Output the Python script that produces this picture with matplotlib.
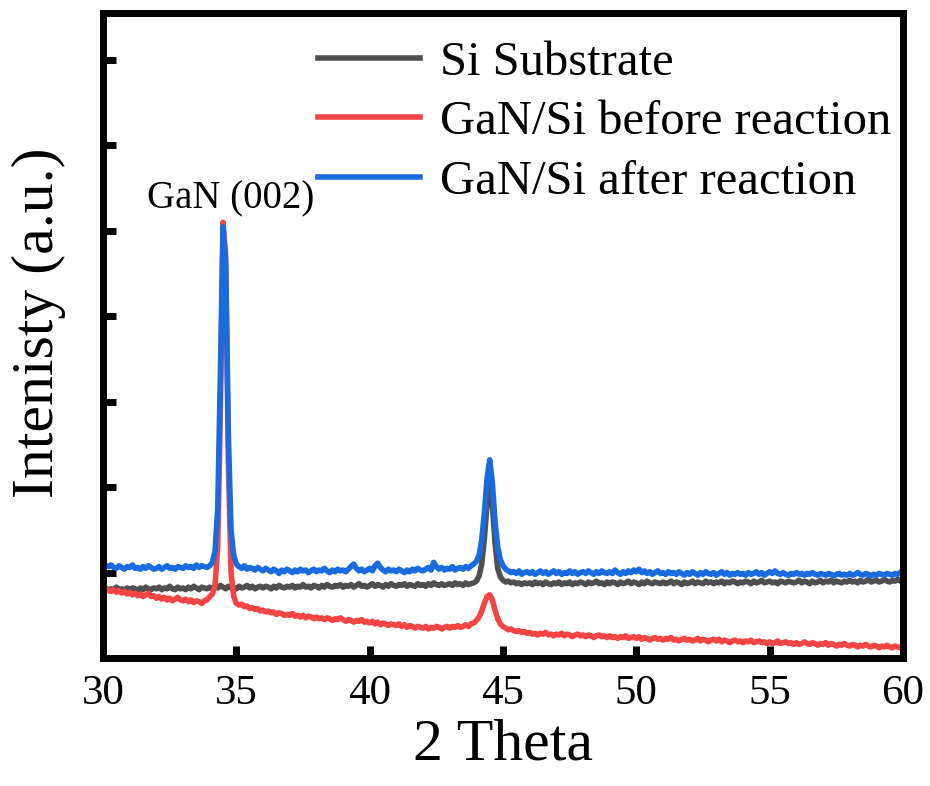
"""XRD patterns of the Si substrate and GaN/Si before and after reaction."""

import matplotlib

matplotlib.use("Agg")
import matplotlib.pyplot as plt
import numpy as np

# scan grid: 30.0 .. 60.0 deg, 0.1 deg step (one row below = one degree)
two_theta = np.round(30.0 + 0.1 * np.arange(301), 1)

si_substrate = [
    0.80, 0.82, 0.79, 0.81, 0.80, 0.83, 0.80, 0.81, 0.79, 0.82,  # 30
    0.80, 0.82, 0.81, 0.79, 0.82, 0.80, 0.83, 0.81, 0.80, 0.82,  # 31
    0.81, 0.83, 0.80, 0.82, 0.81, 0.84, 0.81, 0.80, 0.83, 0.81,  # 32
    0.82, 0.80, 0.83, 0.81, 0.84, 0.82, 0.80, 0.83, 0.82, 0.81,  # 33
    0.83, 0.81, 0.84, 0.82, 0.85, 0.83, 0.81, 0.84, 0.82, 0.83,  # 34
    0.81, 0.84, 0.82, 0.83, 0.85, 0.82, 0.84, 0.81, 0.83, 0.84,  # 35
    0.82, 0.84, 0.83, 0.81, 0.84, 0.82, 0.85, 0.83, 0.82, 0.84,  # 36
    0.83, 0.85, 0.82, 0.84, 0.83, 0.86, 0.83, 0.84, 0.82, 0.85,  # 37
    0.84, 0.82, 0.85, 0.83, 0.86, 0.84, 0.83, 0.85, 0.84, 0.86,  # 38
    0.83, 0.85, 0.84, 0.86, 0.83, 0.85, 0.87, 0.84, 0.85, 0.83,  # 39
    0.85, 0.87, 0.84, 0.86, 0.85, 0.83, 0.86, 0.84, 0.87, 0.85,  # 40
    0.84, 0.86, 0.85, 0.87, 0.84, 0.86, 0.85, 0.84, 0.87, 0.85,  # 41
    0.86, 0.84, 0.87, 0.85, 0.88, 0.86, 0.85, 0.87, 0.85, 0.86,  # 42
    0.87, 0.85, 0.88, 0.86, 0.87, 0.85, 0.88, 0.86, 0.87, 0.88,  # 43
    0.90, 0.96, 1.10, 1.40, 1.80, 2.05, 1.80, 1.35, 1.05, 0.95,  # 44
    0.91, 0.89, 0.90, 0.88, 0.89, 0.87, 0.88, 0.86, 0.88, 0.87,  # 45
    0.88, 0.86, 0.89, 0.87, 0.88, 0.86, 0.89, 0.87, 0.86, 0.88,  # 46
    0.87, 0.89, 0.86, 0.88, 0.87, 0.89, 0.86, 0.88, 0.87, 0.89,  # 47
    0.88, 0.86, 0.89, 0.87, 0.88, 0.90, 0.87, 0.88, 0.86, 0.89,  # 48
    0.87, 0.89, 0.88, 0.86, 0.89, 0.87, 0.88, 0.90, 0.87, 0.89,  # 49
    0.88, 0.86, 0.89, 0.87, 0.90, 0.88, 0.87, 0.89, 0.88, 0.87,  # 50
    0.89, 0.87, 0.88, 0.90, 0.87, 0.89, 0.88, 0.86, 0.89, 0.87,  # 51
    0.88, 0.90, 0.87, 0.89, 0.88, 0.87, 0.90, 0.88, 0.89, 0.87,  # 52
    0.89, 0.88, 0.90, 0.87, 0.89, 0.88, 0.90, 0.89, 0.87, 0.89,  # 53
    0.88, 0.90, 0.89, 0.87, 0.90, 0.88, 0.89, 0.91, 0.88, 0.89,  # 54
    0.90, 0.88, 0.89, 0.87, 0.90, 0.89, 0.88, 0.90, 0.89, 0.88,  # 55
    0.89, 0.91, 0.88, 0.90, 0.89, 0.87, 0.90, 0.88, 0.89, 0.91,  # 56
    0.88, 0.90, 0.89, 0.91, 0.88, 0.90, 0.89, 0.88, 0.90, 0.89,  # 57
    0.91, 0.89, 0.90, 0.88, 0.91, 0.89, 0.90, 0.92, 0.89, 0.90,  # 58
    0.91, 0.89, 0.90, 0.92, 0.90, 0.89, 0.91, 0.90, 0.92, 0.90,  # 59
    0.91,                                                        # 60
]

gan_before = [
    0.80, 0.82, 0.79, 0.78, 0.80, 0.77, 0.79, 0.76, 0.78, 0.75,  # 30
    0.77, 0.74, 0.76, 0.73, 0.75, 0.72, 0.74, 0.76, 0.72, 0.73,  # 31
    0.70, 0.72, 0.69, 0.71, 0.68, 0.70, 0.67, 0.69, 0.71, 0.68,  # 32
    0.67, 0.69, 0.66, 0.68, 0.65, 0.67, 0.66, 0.64, 0.67, 0.68,  # 33
    0.72, 0.75, 0.85, 1.30, 2.90, 5.10, 4.70, 2.30, 1.00, 0.72,  # 34
    0.64, 0.62, 0.63, 0.60, 0.61, 0.58, 0.59, 0.57, 0.58, 0.55,  # 35
    0.56, 0.54, 0.55, 0.53, 0.54, 0.51, 0.53, 0.52, 0.50, 0.51,  # 36
    0.50, 0.52, 0.49, 0.50, 0.48, 0.50, 0.47, 0.49, 0.48, 0.46,  # 37
    0.48, 0.46, 0.47, 0.45, 0.47, 0.46, 0.44, 0.46, 0.45, 0.47,  # 38
    0.45, 0.43, 0.45, 0.44, 0.42, 0.44, 0.43, 0.45, 0.42, 0.43,  # 39
    0.41, 0.43, 0.40, 0.42, 0.39, 0.41, 0.40, 0.38, 0.40, 0.39,  # 40
    0.38, 0.40, 0.37, 0.39, 0.36, 0.38, 0.37, 0.35, 0.37, 0.36,  # 41
    0.35, 0.37, 0.34, 0.36, 0.35, 0.37, 0.36, 0.34, 0.36, 0.37,  # 42
    0.35, 0.37, 0.36, 0.38, 0.36, 0.37, 0.39, 0.37, 0.40, 0.41,  # 43
    0.44, 0.48, 0.55, 0.64, 0.72, 0.74, 0.68, 0.56, 0.46, 0.40,  # 44
    0.37, 0.35, 0.33, 0.34, 0.32, 0.31, 0.32, 0.30, 0.31, 0.29,  # 45
    0.30, 0.28, 0.29, 0.27, 0.29, 0.28, 0.30, 0.27, 0.28, 0.26,  # 46
    0.28, 0.27, 0.29, 0.26, 0.28, 0.27, 0.25, 0.27, 0.28, 0.26,  # 47
    0.27, 0.25, 0.27, 0.26, 0.24, 0.26, 0.27, 0.25, 0.26, 0.24,  # 48
    0.26, 0.24, 0.25, 0.23, 0.25, 0.24, 0.26, 0.23, 0.24, 0.25,  # 49
    0.23, 0.25, 0.22, 0.24, 0.23, 0.21, 0.23, 0.24, 0.22, 0.23,  # 50
    0.21, 0.23, 0.22, 0.24, 0.21, 0.22, 0.20, 0.22, 0.23, 0.21,  # 51
    0.22, 0.20, 0.21, 0.23, 0.20, 0.22, 0.21, 0.19, 0.21, 0.22,  # 52
    0.20, 0.22, 0.19, 0.21, 0.20, 0.18, 0.20, 0.21, 0.19, 0.20,  # 53
    0.18, 0.20, 0.19, 0.21, 0.18, 0.19, 0.20, 0.18, 0.19, 0.17,  # 54
    0.19, 0.17, 0.18, 0.20, 0.17, 0.18, 0.19, 0.17, 0.18, 0.16,  # 55
    0.18, 0.16, 0.17, 0.19, 0.17, 0.16, 0.18, 0.17, 0.15, 0.17,  # 56
    0.16, 0.18, 0.15, 0.17, 0.16, 0.14, 0.16, 0.15, 0.17, 0.15,  # 57
    0.14, 0.16, 0.15, 0.13, 0.15, 0.14, 0.16, 0.14, 0.13, 0.15,  # 58
    0.14, 0.12, 0.14, 0.13, 0.15, 0.13, 0.12, 0.14, 0.13, 0.12,  # 59
    0.14,                                                        # 60
]

gan_after = [
    1.05, 1.08, 1.07, 1.09, 1.06, 1.05, 1.08, 1.06, 1.04, 1.07,  # 30
    1.06, 1.09, 1.05, 1.06, 1.04, 1.07, 1.05, 1.08, 1.06, 1.04,  # 31
    1.05, 1.07, 1.04, 1.06, 1.08, 1.05, 1.06, 1.04, 1.07, 1.06,  # 32
    1.05, 1.08, 1.06, 1.07, 1.05, 1.09, 1.06, 1.08, 1.07, 1.06,  # 33
    1.08, 1.12, 1.25, 1.75, 3.30, 5.05, 4.60, 2.60, 1.50, 1.20,  # 34
    1.10, 1.07, 1.05, 1.08, 1.04, 1.06, 1.05, 1.03, 1.06, 1.04,  # 35
    1.02, 1.05, 1.03, 1.01, 1.04, 1.02, 0.99, 1.03, 1.01, 1.04,  # 36
    1.02, 1.00, 1.03, 1.01, 1.04, 1.02, 1.03, 1.00, 1.02, 1.04,  # 37
    1.01, 1.03, 1.02, 1.05, 1.02, 1.00, 1.03, 1.01, 1.04, 1.02,  # 38
    1.03, 1.01, 1.04, 1.07, 1.10, 1.05, 1.02, 1.04, 1.01, 1.03,  # 39
    1.05, 1.02, 1.08, 1.11, 1.06, 1.03, 1.01, 1.04, 1.02, 1.03,  # 40
    1.01, 1.04, 1.02, 1.00, 1.03, 1.01, 1.04, 1.02, 1.05, 1.03,  # 41
    1.02, 1.04, 1.06, 1.03, 1.12, 1.07, 1.04, 1.06, 1.03, 1.05,  # 42
    1.04, 1.07, 1.03, 1.05, 1.06, 1.04, 1.07, 1.05, 1.08, 1.10,  # 43
    1.13, 1.20, 1.38, 1.70, 2.10, 2.32, 2.05, 1.60, 1.30, 1.15,  # 44
    1.08, 1.04, 1.02, 1.00, 1.01, 0.99, 1.02, 0.98, 1.00, 1.01,  # 45
    0.99, 1.01, 0.98, 1.00, 1.02, 0.99, 1.01, 0.98, 1.00, 1.02,  # 46
    0.99, 1.01, 0.98, 1.00, 0.99, 1.02, 0.99, 1.01, 0.98, 1.00,  # 47
    1.01, 0.99, 1.02, 1.00, 0.98, 1.01, 0.99, 1.02, 1.00, 0.99,  # 48
    1.01, 0.99, 1.03, 1.00, 0.98, 1.01, 0.99, 1.02, 1.00, 1.03,  # 49
    1.01, 1.04, 1.00, 1.02, 0.99, 1.01, 0.98, 1.00, 1.02, 0.99,  # 50
    1.00, 0.98, 1.01, 0.99, 1.00, 0.98, 1.01, 0.99, 0.97, 1.00,  # 51
    0.98, 1.01, 0.99, 0.97, 1.00, 0.98, 1.01, 0.99, 0.98, 1.00,  # 52
    0.97, 0.99, 1.01, 0.98, 1.00, 0.97, 0.99, 0.98, 1.00, 0.98,  # 53
    0.99, 0.97, 1.00, 0.98, 0.99, 1.01, 0.98, 1.00, 0.97, 0.99,  # 54
    1.01, 0.99, 1.02, 0.99, 0.98, 1.00, 0.98, 0.97, 0.99, 0.98,  # 55
    1.00, 0.98, 0.99, 0.97, 0.99, 0.98, 1.00, 0.98, 0.97, 0.99,  # 56
    0.98, 0.97, 0.99, 0.98, 0.96, 0.98, 0.99, 0.97, 0.98, 0.97,  # 57
    0.99, 0.97, 0.98, 1.00, 0.98, 0.97, 0.99, 0.98, 0.96, 0.98,  # 58
    0.97, 0.99, 0.98, 0.97, 0.99, 0.98, 0.97, 0.99, 0.98, 1.00,  # 59
    1.03,                                                        # 60
]

labels = ["Si Substrate", "GaN/Si before reaction", "GaN/Si after reaction"]
colors = ["#4f4f4f", "#f44444", "#1a6be0"]
x_ticks = [30, 35, 40, 45, 50, 55, 60]
y_ticks = [1, 2, 3, 4, 5, 6, 7]
peak_label = "GaN (002)"
peak_pos = (34.8, 5.26)

plt.rcParams["font.family"] = ["Liberation Serif", "DejaVu Serif"]

fig = plt.figure(figsize=(9.3, 7.86), dpi=100)
ax = fig.add_axes([0.1108, 0.1628, 0.8602, 0.8207])

for ys, label, color in zip([si_substrate, gan_before, gan_after], labels, colors):
    ax.plot(two_theta, ys, color=color, lw=4.0, label=label, solid_joinstyle="round")

ax.set_xlim(30, 60)
ax.set_ylim(0, 7.55)
ax.set_xticks(x_ticks)
ax.set_yticks(y_ticks)
ax.set_yticklabels([])
ax.tick_params(direction="in", length=9, width=5, labelsize=31, pad=12)
for spine in ax.spines.values():
    spine.set_linewidth(5)

ax.set_xlabel("2 Theta", fontsize=43)
ax.set_ylabel("Intenisty (a.u.)", fontsize=43)
ax.xaxis.set_label_coords(0.5, -0.094)
ax.yaxis.set_label_coords(-0.046, 0.52)

ax.text(*peak_pos, peak_label, fontsize=28, ha="center", va="baseline")

ax.legend(
    loc="upper left",
    bbox_to_anchor=(0.269, 0.957),
    frameon=False,
    fontsize=35,
    handlelength=2.1,
    handletextpad=0.4,
    labelspacing=0.32,
    borderpad=0,
    borderaxespad=0,
)

fig.savefig("out.png", dpi=100)
